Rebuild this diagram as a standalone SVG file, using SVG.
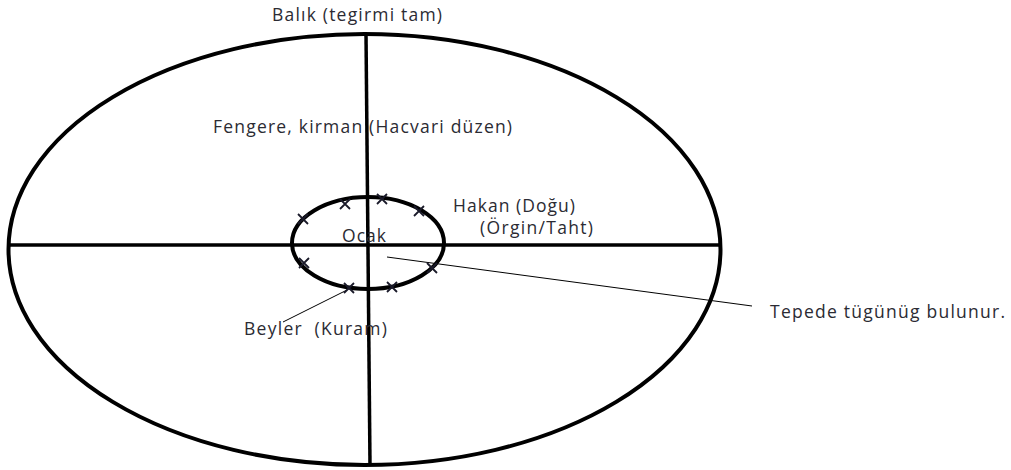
<svg xmlns="http://www.w3.org/2000/svg" width="1011" height="470" viewBox="0 0 1011 470">
<style>
.t{font-family:"Open Sans","Liberation Sans",sans-serif;font-size:17.5px;fill:#2b2b33}
.thick{fill:none;stroke:#000;stroke-width:4}
.axis{stroke:#000;stroke-width:3.5;fill:none}
.thin{stroke:#000;stroke-width:1;fill:none}
.x{stroke:#1a1a2a;stroke-width:1.8;fill:none}
</style>
<rect width="1011" height="470" fill="#fff"/>
<g id="outer">
<ellipse class="thick" cx="364.5" cy="249.5" rx="356" ry="215.5"/>
</g>
<g id="connectors">
<line class="axis" x1="10" y1="245" x2="720" y2="245"/>
<line class="axis" x1="366" y1="34" x2="370" y2="465"/>
<line class="thin" x1="387" y1="257" x2="752" y2="306"/>
<line class="thin" x1="347" y1="290" x2="283" y2="322"/>
</g>
<g id="ocak">
<ellipse class="thick" cx="368" cy="243" rx="76" ry="46"/>
<text class="t" x="342" y="242" textLength="44">Ocak</text>
</g>
<g id="marks">
<path class="x" d="M340 199l10 10M350 199l-10 10M377 194l10 10M387 194l-10 10M414 206l10 10M424 206l-10 10M298 214l10 10M308 214l-10 10M299 258l10 10M309 258l-10 10M427 263l10 10M437 263l-10 10M387 282l10 10M397 282l-10 10M344 283l10 10M354 283l-10 10"/>
</g>
<g id="balik"><text class="t" x="272" y="21" textLength="170">Balık (tegirmi tam)</text></g>
<g id="fengere"><text class="t" x="213" y="133" textLength="299">Fengere, kirman (Hacvari düzen)</text></g>
<g id="hakan">
<text class="t" x="453" y="212" textLength="122">Hakan (Doğu)</text>
<text class="t" x="480" y="234" textLength="113">(Örgin/Taht)</text>
</g>
<g id="beyler"><text class="t" x="244" y="335" textLength="143">Beyler&#160; (Kuram)</text></g>
<g id="tepede"><text class="t" x="770" y="318" textLength="235">Tepede tügünüg bulunur.</text></g>
</svg>
